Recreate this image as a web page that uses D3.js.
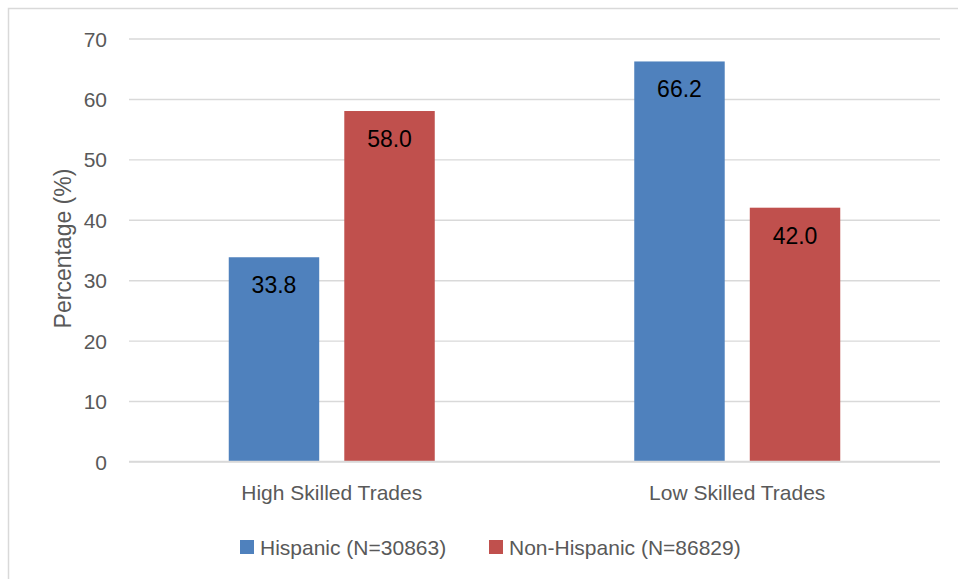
<!DOCTYPE html>
<html>
<head>
<meta charset="utf-8">
<script src="https://cdn.jsdelivr.net/npm/d3@7"></script>
<style>
  html, body { margin: 0; padding: 0; background: #fff; }
  svg { display: block; font-family: "Liberation Sans", Arial, sans-serif; }
</style>
</head>
<body>
<svg id="chart" width="958" height="579"></svg>
<script>
const categories = ["High Skilled Trades", "Low Skilled Trades"];
const seriesNames = ["Hispanic (N=30863)", "Non-Hispanic (N=86829)"];
const hispanic = [33.8, 66.2];
const nonHispanic = [58.0, 42.0];
const yTicks = [0, 10, 20, 30, 40, 50, 60, 70];
const seriesColors = ["#4f81bd", "#c0504d"];
const yTitle = "Percentage (%)";

const svg = d3.select("#chart");
const W = 958, H = 579;
const plot = { left: 129, right: 940, top: 38.5, bottom: 461.5 };
const textColor = "#595959";

// chart border
svg.append("rect")
  .attr("x", 8.5).attr("y", 8.5)
  .attr("width", 1200).attr("height", 1200)
  .attr("fill", "none").attr("stroke", "#d9d9d9").attr("stroke-width", 1.5);

const y = d3.scaleLinear().domain([0, 70]).range([plot.bottom, plot.top]);
const x0 = d3.scaleBand().domain(categories).range([plot.left, plot.right]).padding(0);
const groupW = 206;
const x1 = d3.scaleBand().domain(seriesNames)
  .range([x0.bandwidth() / 2 - groupW / 2, x0.bandwidth() / 2 + groupW / 2])
  .paddingInner(0.217).paddingOuter(0);

// gridlines
const yAxis = d3.axisLeft(y).tickValues(yTicks).tickSize(-(plot.right - plot.left)).tickPadding(22);
const gy = svg.append("g").attr("transform", `translate(${plot.left},0)`).call(yAxis);
gy.select(".domain").remove();
gy.selectAll(".tick line").attr("stroke", "#d9d9d9").attr("stroke-width", 1.4);
gy.selectAll(".tick text")
  .attr("fill", textColor).attr("font-size", 21)
  .attr("font-family", "'Liberation Sans', Arial, sans-serif")
  .attr("dy", "0.36em");

// bars
const data = categories.map((c, i) => ({ cat: c, values: [hispanic[i], nonHispanic[i]] }));
const groups = svg.append("g").selectAll("g").data(data).join("g")
  .attr("transform", d => `translate(${x0(d.cat)},0)`);

groups.selectAll("rect").data(d => d.values.map((v, j) => ({ s: seriesNames[j], v, j })))
  .join("rect")
  .attr("x", d => x1(d.s))
  .attr("width", x1.bandwidth())
  .attr("y", d => y(d.v))
  .attr("height", d => y(0) - y(d.v))
  .attr("fill", d => seriesColors[d.j]);

groups.selectAll("text.lbl").data(d => d.values.map((v, j) => ({ s: seriesNames[j], v, j })))
  .join("text").attr("class", "lbl")
  .attr("x", d => x1(d.s) + x1.bandwidth() / 2)
  .attr("y", d => y(d.v) + 36)
  .attr("text-anchor", "middle")
  .attr("font-size", 23)
  .attr("fill", "#000")
  .text(d => d3.format(".1f")(d.v));

// baseline
svg.append("line")
  .attr("x1", plot.left).attr("x2", plot.right)
  .attr("y1", y(0)).attr("y2", y(0))
  .attr("stroke", "#d9d9d9").attr("stroke-width", 1.6);

// category labels
svg.append("g").selectAll("text").data(categories).join("text")
  .attr("x", d => x0(d) + x0.bandwidth() / 2)
  .attr("y", 500)
  .attr("text-anchor", "middle")
  .attr("font-size", 21)
  .attr("fill", textColor)
  .text(d => d);

// y title
svg.append("text")
  .attr("transform", "translate(71,248.5) rotate(-90)")
  .attr("text-anchor", "middle")
  .attr("font-size", 23)
  .attr("fill", textColor)
  .text(yTitle);

// legend
const legendX = [240, 489];
const lg = svg.append("g").selectAll("g").data(seriesNames).join("g")
  .attr("transform", (d, i) => `translate(${legendX[i]},540)`);
lg.append("rect").attr("width", 14).attr("height", 14).attr("fill", (d, i) => seriesColors[i]);
lg.append("text").attr("x", 20).attr("y", 14.5)
  .attr("font-size", 21).attr("fill", textColor).text(d => d);
</script>
</body>
</html>
